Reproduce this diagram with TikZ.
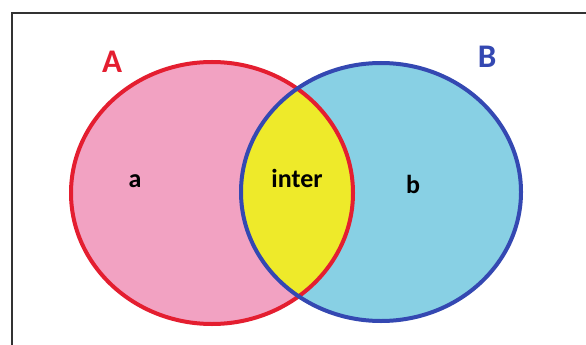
\documentclass[tikz,border=0pt]{standalone}
\usepackage{fontspec}
\newfontfamily\vennfont{Carlito}
\definecolor{setApink}{RGB}{242,162,194}
\definecolor{setBcyan}{RGB}{136,208,228}
\definecolor{interyellow}{RGB}{238,234,42}
\definecolor{setAred}{RGB}{228,30,48}
\definecolor{setBblue}{RGB}{52,72,178}
\definecolor{framegray}{RGB}{50,50,50}
\begin{document}
\begin{tikzpicture}[x=1pt,y=-1pt,
  setlabel/.style={anchor=base,font=\vennfont\bfseries\fontsize{33}{33}\selectfont},
  partlabel/.style={anchor=base,font=\vennfont\bfseries\fontsize{26}{26}\selectfont,text=black}]
\pgfmathsetmacro{\rxA}{141}
\pgfmathsetmacro{\ryA}{131}
\pgfmathsetmacro{\rxB}{140}
\pgfmathsetmacro{\ryB}{129}
\useasboundingbox (0,0) rectangle (586,345);
\clip (0,0) rectangle (586,345);
%
\fill[white](0,0) rectangle (586,345);
\draw[framegray,line width=2pt](12,13) rectangle (600,360);
%
\coordinate (cA) at (212,193);
\coordinate (cB) at (381,192);
\fill[setApink](cA) ellipse ({\rxA} and {\ryA});
\fill[setBcyan](cB) ellipse ({\rxB} and {\ryB});
\begin{scope}
\clip (cA) ellipse ({\rxA} and {\ryA});
\fill[interyellow](cB) ellipse ({\rxB} and {\ryB});
\end{scope}
\draw[setAred,line width=4pt](cA) ellipse ({\rxA} and {\ryA});
\draw[setBblue,line width=4pt](cB) ellipse ({\rxB} and {\ryB});
%
\node[setlabel,text=setAred] (labA) at (112,72) {A};
\node[setlabel,text=setBblue] (labB) at (487,67) {B};
\node[partlabel] (parta) at (135,187) {a};
\node[partlabel] (partinter) at (297,187) {inter};
\node[partlabel] (partb) at (413,193) {b};
\end{tikzpicture}
\end{document}
